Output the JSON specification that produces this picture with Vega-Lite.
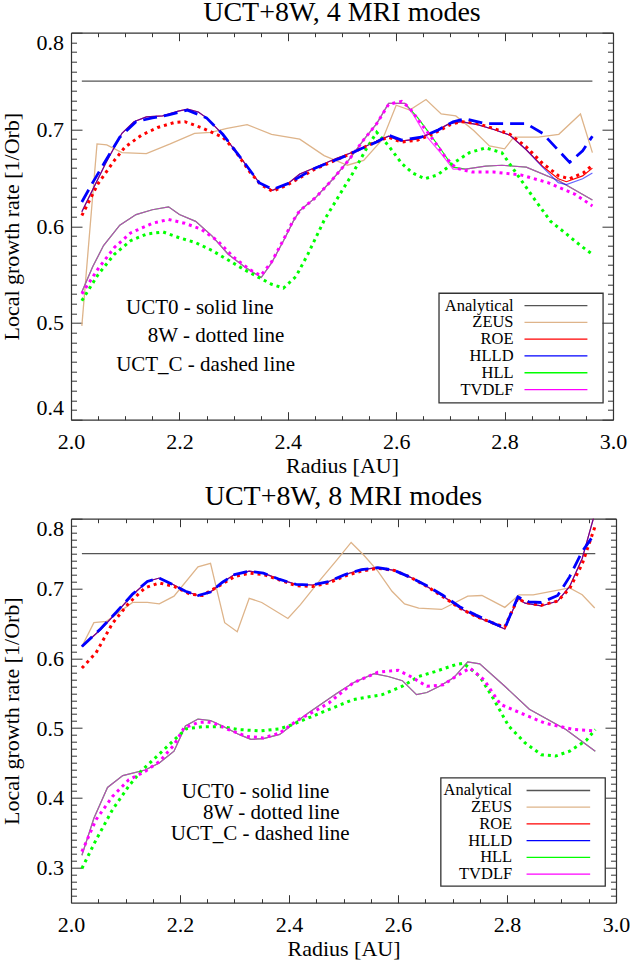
{
  "$schema": "https://vega.github.io/schema/vega-lite/v6.json",
  "padding": {"top": -1.3, "left": 0, "right": 0, "bottom": 0},
  "background": "white",
  "config": {
    "view": {"stroke": null},
    "font": "Liberation Serif",
    "legend": {"disable": true},
    "axis": {"grid": false, "domainColor": "#333333", "domainWidth": 1.2, "tickColor": "#333333", "tickWidth": 1,
      "labelFont": "Liberation Serif", "labelFontSize": 22, "labelColor": "black",
      "titleFont": "Liberation Serif", "titleFontSize": 22, "titleFontWeight": "normal", "titleColor": "black"},
    "title": {"font": "Liberation Serif", "fontSize": 28, "fontWeight": "normal", "color": "black", "anchor": "middle", "frame": "group", "baseline": "alphabetic"},
    "line": {"strokeCap": "butt"}
  },
  "datasets": {
    "legend": [{"code":"Analytical"},{"code":"ZEUS"},{"code":"ROE"},{"code":"HLLD"},{"code":"HLL"},{"code":"TVDLF"}],
    "top": [
      {"code":"Analytical","scheme":"UCT0","r":2.02,"g":0.75},{"code":"Analytical","scheme":"UCT0","r":2.962,"g":0.75},
      {"code":"ZEUS","scheme":"UCT0","r":2.02,"g":0.497},{"code":"ZEUS","scheme":"UCT0","r":2.048,"g":0.685},{"code":"ZEUS","scheme":"UCT0","r":2.066,"g":0.684},{"code":"ZEUS","scheme":"UCT0","r":2.094,"g":0.676},{"code":"ZEUS","scheme":"UCT0","r":2.139,"g":0.675},{"code":"ZEUS","scheme":"UCT0","r":2.183,"g":0.685},{"code":"ZEUS","scheme":"UCT0","r":2.228,"g":0.696},{"code":"ZEUS","scheme":"UCT0","r":2.258,"g":0.697},{"code":"ZEUS","scheme":"UCT0","r":2.288,"g":0.701},{"code":"ZEUS","scheme":"UCT0","r":2.325,"g":0.705},{"code":"ZEUS","scheme":"UCT0","r":2.37,"g":0.695},{"code":"ZEUS","scheme":"UCT0","r":2.422,"g":0.69},{"code":"ZEUS","scheme":"UCT0","r":2.467,"g":0.673},{"code":"ZEUS","scheme":"UCT0","r":2.51,"g":0.663},{"code":"ZEUS","scheme":"UCT0","r":2.54,"g":0.668},{"code":"ZEUS","scheme":"UCT0","r":2.575,"g":0.69},{"code":"ZEUS","scheme":"UCT0","r":2.6,"g":0.725},{"code":"ZEUS","scheme":"UCT0","r":2.625,"g":0.72},{"code":"ZEUS","scheme":"UCT0","r":2.655,"g":0.731},{"code":"ZEUS","scheme":"UCT0","r":2.683,"g":0.716},{"code":"ZEUS","scheme":"UCT0","r":2.71,"g":0.714},{"code":"ZEUS","scheme":"UCT0","r":2.743,"g":0.699},{"code":"ZEUS","scheme":"UCT0","r":2.772,"g":0.683},{"code":"ZEUS","scheme":"UCT0","r":2.8,"g":0.68},{"code":"ZEUS","scheme":"UCT0","r":2.817,"g":0.692},{"code":"ZEUS","scheme":"UCT0","r":2.862,"g":0.692},{"code":"ZEUS","scheme":"UCT0","r":2.9,"g":0.695},{"code":"ZEUS","scheme":"UCT0","r":2.94,"g":0.716},{"code":"ZEUS","scheme":"UCT0","r":2.962,"g":0.676},
      {"code":"HLL","scheme":"UCT0","r":2.02,"g":0.532},{"code":"HLL","scheme":"UCT0","r":2.04,"g":0.558},{"code":"HLL","scheme":"UCT0","r":2.06,"g":0.58},{"code":"HLL","scheme":"UCT0","r":2.09,"g":0.601},{"code":"HLL","scheme":"UCT0","r":2.12,"g":0.612},{"code":"HLL","scheme":"UCT0","r":2.15,"g":0.617},{"code":"HLL","scheme":"UCT0","r":2.18,"g":0.62},{"code":"HLL","scheme":"UCT0","r":2.2,"g":0.612},{"code":"HLL","scheme":"UCT0","r":2.23,"g":0.605},{"code":"HLL","scheme":"UCT0","r":2.26,"g":0.59},{"code":"HLL","scheme":"UCT0","r":2.29,"g":0.571},{"code":"HLL","scheme":"UCT0","r":2.32,"g":0.558},{"code":"HLL","scheme":"UCT0","r":2.351,"g":0.547},{"code":"HLL","scheme":"UCT0","r":2.37,"g":0.562},{"code":"HLL","scheme":"UCT0","r":2.392,"g":0.585},{"code":"HLL","scheme":"UCT0","r":2.41,"g":0.605},{"code":"HLL","scheme":"UCT0","r":2.422,"g":0.616},{"code":"HLL","scheme":"UCT0","r":2.452,"g":0.63},{"code":"HLL","scheme":"UCT0","r":2.482,"g":0.648},{"code":"HLL","scheme":"UCT0","r":2.512,"g":0.668},{"code":"HLL","scheme":"UCT0","r":2.541,"g":0.69},{"code":"HLL","scheme":"UCT0","r":2.564,"g":0.706},{"code":"HLL","scheme":"UCT0","r":2.586,"g":0.727},{"code":"HLL","scheme":"UCT0","r":2.616,"g":0.727},{"code":"HLL","scheme":"UCT0","r":2.64,"g":0.712},{"code":"HLL","scheme":"UCT0","r":2.66,"g":0.697},{"code":"HLL","scheme":"UCT0","r":2.683,"g":0.679},{"code":"HLL","scheme":"UCT0","r":2.705,"g":0.661},{"code":"HLL","scheme":"UCT0","r":2.728,"g":0.659},{"code":"HLL","scheme":"UCT0","r":2.765,"g":0.662},{"code":"HLL","scheme":"UCT0","r":2.795,"g":0.663},{"code":"HLL","scheme":"UCT0","r":2.84,"g":0.661},{"code":"HLL","scheme":"UCT0","r":2.9,"g":0.647},{"code":"HLL","scheme":"UCT0","r":2.962,"g":0.627},
      {"code":"TVDLF","scheme":"UCT0","r":2.02,"g":0.532},{"code":"TVDLF","scheme":"UCT0","r":2.04,"g":0.558},{"code":"TVDLF","scheme":"UCT0","r":2.06,"g":0.58},{"code":"TVDLF","scheme":"UCT0","r":2.09,"g":0.601},{"code":"TVDLF","scheme":"UCT0","r":2.12,"g":0.612},{"code":"TVDLF","scheme":"UCT0","r":2.15,"g":0.617},{"code":"TVDLF","scheme":"UCT0","r":2.18,"g":0.62},{"code":"TVDLF","scheme":"UCT0","r":2.2,"g":0.612},{"code":"TVDLF","scheme":"UCT0","r":2.23,"g":0.605},{"code":"TVDLF","scheme":"UCT0","r":2.26,"g":0.59},{"code":"TVDLF","scheme":"UCT0","r":2.29,"g":0.571},{"code":"TVDLF","scheme":"UCT0","r":2.32,"g":0.558},{"code":"TVDLF","scheme":"UCT0","r":2.351,"g":0.547},{"code":"TVDLF","scheme":"UCT0","r":2.37,"g":0.562},{"code":"TVDLF","scheme":"UCT0","r":2.392,"g":0.585},{"code":"TVDLF","scheme":"UCT0","r":2.41,"g":0.605},{"code":"TVDLF","scheme":"UCT0","r":2.422,"g":0.616},{"code":"TVDLF","scheme":"UCT0","r":2.452,"g":0.63},{"code":"TVDLF","scheme":"UCT0","r":2.482,"g":0.648},{"code":"TVDLF","scheme":"UCT0","r":2.512,"g":0.668},{"code":"TVDLF","scheme":"UCT0","r":2.541,"g":0.69},{"code":"TVDLF","scheme":"UCT0","r":2.564,"g":0.706},{"code":"TVDLF","scheme":"UCT0","r":2.586,"g":0.727},{"code":"TVDLF","scheme":"UCT0","r":2.616,"g":0.727},{"code":"TVDLF","scheme":"UCT0","r":2.632,"g":0.715},{"code":"TVDLF","scheme":"UCT0","r":2.653,"g":0.695},{"code":"TVDLF","scheme":"UCT0","r":2.683,"g":0.675},{"code":"TVDLF","scheme":"UCT0","r":2.705,"g":0.659},{"code":"TVDLF","scheme":"UCT0","r":2.728,"g":0.659},{"code":"TVDLF","scheme":"UCT0","r":2.765,"g":0.662},{"code":"TVDLF","scheme":"UCT0","r":2.795,"g":0.663},{"code":"TVDLF","scheme":"UCT0","r":2.84,"g":0.661},{"code":"TVDLF","scheme":"UCT0","r":2.9,"g":0.647},{"code":"TVDLF","scheme":"UCT0","r":2.962,"g":0.627},
      {"code":"ROE","scheme":"UCT0","r":2.02,"g":0.615},{"code":"ROE","scheme":"UCT0","r":2.042,"g":0.64},{"code":"ROE","scheme":"UCT0","r":2.064,"g":0.665},{"code":"ROE","scheme":"UCT0","r":2.094,"g":0.696},{"code":"ROE","scheme":"UCT0","r":2.116,"g":0.708},{"code":"ROE","scheme":"UCT0","r":2.139,"g":0.713},{"code":"ROE","scheme":"UCT0","r":2.169,"g":0.714},{"code":"ROE","scheme":"UCT0","r":2.198,"g":0.719},{"code":"ROE","scheme":"UCT0","r":2.215,"g":0.721},{"code":"ROE","scheme":"UCT0","r":2.235,"g":0.718},{"code":"ROE","scheme":"UCT0","r":2.25,"g":0.712},{"code":"ROE","scheme":"UCT0","r":2.28,"g":0.695},{"code":"ROE","scheme":"UCT0","r":2.318,"g":0.667},{"code":"ROE","scheme":"UCT0","r":2.347,"g":0.645},{"code":"ROE","scheme":"UCT0","r":2.372,"g":0.637},{"code":"ROE","scheme":"UCT0","r":2.4,"g":0.644},{"code":"ROE","scheme":"UCT0","r":2.422,"g":0.654},{"code":"ROE","scheme":"UCT0","r":2.452,"g":0.661},{"code":"ROE","scheme":"UCT0","r":2.489,"g":0.67},{"code":"ROE","scheme":"UCT0","r":2.527,"g":0.678},{"code":"ROE","scheme":"UCT0","r":2.556,"g":0.686},{"code":"ROE","scheme":"UCT0","r":2.586,"g":0.693},{"code":"ROE","scheme":"UCT0","r":2.608,"g":0.688},{"code":"ROE","scheme":"UCT0","r":2.638,"g":0.69},{"code":"ROE","scheme":"UCT0","r":2.668,"g":0.697},{"code":"ROE","scheme":"UCT0","r":2.698,"g":0.706},{"code":"ROE","scheme":"UCT0","r":2.72,"g":0.708},{"code":"ROE","scheme":"UCT0","r":2.75,"g":0.705},{"code":"ROE","scheme":"UCT0","r":2.78,"g":0.7},{"code":"ROE","scheme":"UCT0","r":2.81,"g":0.694},{"code":"ROE","scheme":"UCT0","r":2.84,"g":0.679},{"code":"ROE","scheme":"UCT0","r":2.87,"g":0.662},{"code":"ROE","scheme":"UCT0","r":2.899,"g":0.649},{"code":"ROE","scheme":"UCT0","r":2.914,"g":0.646},{"code":"ROE","scheme":"UCT0","r":2.944,"g":0.652},{"code":"ROE","scheme":"UCT0","r":2.962,"g":0.66},
      {"code":"HLLD","scheme":"UCT0","r":2.02,"g":0.615},{"code":"HLLD","scheme":"UCT0","r":2.042,"g":0.64},{"code":"HLLD","scheme":"UCT0","r":2.064,"g":0.665},{"code":"HLLD","scheme":"UCT0","r":2.094,"g":0.696},{"code":"HLLD","scheme":"UCT0","r":2.116,"g":0.708},{"code":"HLLD","scheme":"UCT0","r":2.139,"g":0.713},{"code":"HLLD","scheme":"UCT0","r":2.169,"g":0.714},{"code":"HLLD","scheme":"UCT0","r":2.198,"g":0.719},{"code":"HLLD","scheme":"UCT0","r":2.215,"g":0.721},{"code":"HLLD","scheme":"UCT0","r":2.235,"g":0.718},{"code":"HLLD","scheme":"UCT0","r":2.25,"g":0.712},{"code":"HLLD","scheme":"UCT0","r":2.28,"g":0.695},{"code":"HLLD","scheme":"UCT0","r":2.318,"g":0.667},{"code":"HLLD","scheme":"UCT0","r":2.347,"g":0.645},{"code":"HLLD","scheme":"UCT0","r":2.372,"g":0.637},{"code":"HLLD","scheme":"UCT0","r":2.4,"g":0.644},{"code":"HLLD","scheme":"UCT0","r":2.422,"g":0.654},{"code":"HLLD","scheme":"UCT0","r":2.452,"g":0.661},{"code":"HLLD","scheme":"UCT0","r":2.489,"g":0.67},{"code":"HLLD","scheme":"UCT0","r":2.527,"g":0.678},{"code":"HLLD","scheme":"UCT0","r":2.556,"g":0.686},{"code":"HLLD","scheme":"UCT0","r":2.586,"g":0.693},{"code":"HLLD","scheme":"UCT0","r":2.608,"g":0.688},{"code":"HLLD","scheme":"UCT0","r":2.638,"g":0.69},{"code":"HLLD","scheme":"UCT0","r":2.668,"g":0.697},{"code":"HLLD","scheme":"UCT0","r":2.698,"g":0.706},{"code":"HLLD","scheme":"UCT0","r":2.72,"g":0.708},{"code":"HLLD","scheme":"UCT0","r":2.75,"g":0.705},{"code":"HLLD","scheme":"UCT0","r":2.78,"g":0.7},{"code":"HLLD","scheme":"UCT0","r":2.81,"g":0.694},{"code":"HLLD","scheme":"UCT0","r":2.84,"g":0.679},{"code":"HLLD","scheme":"UCT0","r":2.87,"g":0.661},{"code":"HLLD","scheme":"UCT0","r":2.899,"g":0.645},{"code":"HLLD","scheme":"UCT0","r":2.914,"g":0.643},{"code":"HLLD","scheme":"UCT0","r":2.944,"g":0.649},{"code":"HLLD","scheme":"UCT0","r":2.962,"g":0.655},
      {"code":"HLL","scheme":"8W","r":2.02,"g":0.523},{"code":"HLL","scheme":"8W","r":2.05,"g":0.55},{"code":"HLL","scheme":"8W","r":2.08,"g":0.571},{"code":"HLL","scheme":"8W","r":2.11,"g":0.585},{"code":"HLL","scheme":"8W","r":2.14,"g":0.592},{"code":"HLL","scheme":"8W","r":2.17,"g":0.594},{"code":"HLL","scheme":"8W","r":2.2,"g":0.588},{"code":"HLL","scheme":"8W","r":2.23,"g":0.583},{"code":"HLL","scheme":"8W","r":2.26,"g":0.575},{"code":"HLL","scheme":"8W","r":2.29,"g":0.565},{"code":"HLL","scheme":"8W","r":2.32,"g":0.555},{"code":"HLL","scheme":"8W","r":2.35,"g":0.546},{"code":"HLL","scheme":"8W","r":2.37,"g":0.54},{"code":"HLL","scheme":"8W","r":2.392,"g":0.536},{"code":"HLL","scheme":"8W","r":2.415,"g":0.548},{"code":"HLL","scheme":"8W","r":2.437,"g":0.571},{"code":"HLL","scheme":"8W","r":2.467,"g":0.606},{"code":"HLL","scheme":"8W","r":2.495,"g":0.632},{"code":"HLL","scheme":"8W","r":2.519,"g":0.654},{"code":"HLL","scheme":"8W","r":2.545,"g":0.68},{"code":"HLL","scheme":"8W","r":2.564,"g":0.697},{"code":"HLL","scheme":"8W","r":2.586,"g":0.683},{"code":"HLL","scheme":"8W","r":2.61,"g":0.665},{"code":"HLL","scheme":"8W","r":2.63,"g":0.655},{"code":"HLL","scheme":"8W","r":2.653,"g":0.649},{"code":"HLL","scheme":"8W","r":2.676,"g":0.653},{"code":"HLL","scheme":"8W","r":2.705,"g":0.665},{"code":"HLL","scheme":"8W","r":2.735,"g":0.676},{"code":"HLL","scheme":"8W","r":2.765,"g":0.681},{"code":"HLL","scheme":"8W","r":2.795,"g":0.676},{"code":"HLL","scheme":"8W","r":2.825,"g":0.652},{"code":"HLL","scheme":"8W","r":2.855,"g":0.628},{"code":"HLL","scheme":"8W","r":2.885,"g":0.605},{"code":"HLL","scheme":"8W","r":2.914,"g":0.592},{"code":"HLL","scheme":"8W","r":2.94,"g":0.58},{"code":"HLL","scheme":"8W","r":2.962,"g":0.571},
      {"code":"TVDLF","scheme":"8W","r":2.02,"g":0.53},{"code":"TVDLF","scheme":"8W","r":2.05,"g":0.556},{"code":"TVDLF","scheme":"8W","r":2.08,"g":0.578},{"code":"TVDLF","scheme":"8W","r":2.11,"g":0.593},{"code":"TVDLF","scheme":"8W","r":2.15,"g":0.603},{"code":"TVDLF","scheme":"8W","r":2.18,"g":0.607},{"code":"TVDLF","scheme":"8W","r":2.21,"g":0.603},{"code":"TVDLF","scheme":"8W","r":2.24,"g":0.597},{"code":"TVDLF","scheme":"8W","r":2.27,"g":0.585},{"code":"TVDLF","scheme":"8W","r":2.3,"g":0.568},{"code":"TVDLF","scheme":"8W","r":2.33,"g":0.555},{"code":"TVDLF","scheme":"8W","r":2.35,"g":0.549},{"code":"TVDLF","scheme":"8W","r":2.37,"g":0.563},{"code":"TVDLF","scheme":"8W","r":2.392,"g":0.586},{"code":"TVDLF","scheme":"8W","r":2.41,"g":0.606},{"code":"TVDLF","scheme":"8W","r":2.422,"g":0.616},{"code":"TVDLF","scheme":"8W","r":2.452,"g":0.63},{"code":"TVDLF","scheme":"8W","r":2.482,"g":0.648},{"code":"TVDLF","scheme":"8W","r":2.512,"g":0.668},{"code":"TVDLF","scheme":"8W","r":2.541,"g":0.69},{"code":"TVDLF","scheme":"8W","r":2.564,"g":0.706},{"code":"TVDLF","scheme":"8W","r":2.586,"g":0.726},{"code":"TVDLF","scheme":"8W","r":2.61,"g":0.729},{"code":"TVDLF","scheme":"8W","r":2.625,"g":0.722},{"code":"TVDLF","scheme":"8W","r":2.65,"g":0.703},{"code":"TVDLF","scheme":"8W","r":2.67,"g":0.688},{"code":"TVDLF","scheme":"8W","r":2.69,"g":0.672},{"code":"TVDLF","scheme":"8W","r":2.71,"g":0.66},{"code":"TVDLF","scheme":"8W","r":2.74,"g":0.656},{"code":"TVDLF","scheme":"8W","r":2.78,"g":0.656},{"code":"TVDLF","scheme":"8W","r":2.83,"g":0.653},{"code":"TVDLF","scheme":"8W","r":2.88,"g":0.645},{"code":"TVDLF","scheme":"8W","r":2.93,"g":0.633},{"code":"TVDLF","scheme":"8W","r":2.962,"g":0.621},
      {"code":"ROE","scheme":"8W","r":2.02,"g":0.611},{"code":"ROE","scheme":"8W","r":2.05,"g":0.644},{"code":"ROE","scheme":"8W","r":2.08,"g":0.668},{"code":"ROE","scheme":"8W","r":2.1,"g":0.682},{"code":"ROE","scheme":"8W","r":2.13,"g":0.694},{"code":"ROE","scheme":"8W","r":2.16,"g":0.702},{"code":"ROE","scheme":"8W","r":2.19,"g":0.707},{"code":"ROE","scheme":"8W","r":2.21,"g":0.708},{"code":"ROE","scheme":"8W","r":2.24,"g":0.702},{"code":"ROE","scheme":"8W","r":2.26,"g":0.697},{"code":"ROE","scheme":"8W","r":2.28,"g":0.692},{"code":"ROE","scheme":"8W","r":2.3,"g":0.68},{"code":"ROE","scheme":"8W","r":2.33,"g":0.656},{"code":"ROE","scheme":"8W","r":2.35,"g":0.643},{"code":"ROE","scheme":"8W","r":2.372,"g":0.636},{"code":"ROE","scheme":"8W","r":2.4,"g":0.643},{"code":"ROE","scheme":"8W","r":2.45,"g":0.659},{"code":"ROE","scheme":"8W","r":2.5,"g":0.671},{"code":"ROE","scheme":"8W","r":2.55,"g":0.684},{"code":"ROE","scheme":"8W","r":2.585,"g":0.692},{"code":"ROE","scheme":"8W","r":2.61,"g":0.687},{"code":"ROE","scheme":"8W","r":2.64,"g":0.689},{"code":"ROE","scheme":"8W","r":2.67,"g":0.696},{"code":"ROE","scheme":"8W","r":2.7,"g":0.705},{"code":"ROE","scheme":"8W","r":2.72,"g":0.708},{"code":"ROE","scheme":"8W","r":2.75,"g":0.706},{"code":"ROE","scheme":"8W","r":2.78,"g":0.701},{"code":"ROE","scheme":"8W","r":2.81,"g":0.695},{"code":"ROE","scheme":"8W","r":2.84,"g":0.682},{"code":"ROE","scheme":"8W","r":2.87,"g":0.665},{"code":"ROE","scheme":"8W","r":2.9,"g":0.652},{"code":"ROE","scheme":"8W","r":2.92,"g":0.649},{"code":"ROE","scheme":"8W","r":2.945,"g":0.655},{"code":"ROE","scheme":"8W","r":2.962,"g":0.663},
      {"code":"HLLD","scheme":"UCT_C","r":2.02,"g":0.625},{"code":"HLLD","scheme":"UCT_C","r":2.04,"g":0.645},{"code":"HLLD","scheme":"UCT_C","r":2.06,"g":0.664},{"code":"HLLD","scheme":"UCT_C","r":2.09,"g":0.692},{"code":"HLLD","scheme":"UCT_C","r":2.12,"g":0.708},{"code":"HLLD","scheme":"UCT_C","r":2.15,"g":0.712},{"code":"HLLD","scheme":"UCT_C","r":2.18,"g":0.715},{"code":"HLLD","scheme":"UCT_C","r":2.215,"g":0.72},{"code":"HLLD","scheme":"UCT_C","r":2.25,"g":0.712},{"code":"HLLD","scheme":"UCT_C","r":2.28,"g":0.695},{"code":"HLLD","scheme":"UCT_C","r":2.318,"g":0.667},{"code":"HLLD","scheme":"UCT_C","r":2.347,"g":0.645},{"code":"HLLD","scheme":"UCT_C","r":2.372,"g":0.638},{"code":"HLLD","scheme":"UCT_C","r":2.4,"g":0.644},{"code":"HLLD","scheme":"UCT_C","r":2.45,"g":0.66},{"code":"HLLD","scheme":"UCT_C","r":2.5,"g":0.671},{"code":"HLLD","scheme":"UCT_C","r":2.535,"g":0.68},{"code":"HLLD","scheme":"UCT_C","r":2.564,"g":0.687},{"code":"HLLD","scheme":"UCT_C","r":2.586,"g":0.694},{"code":"HLLD","scheme":"UCT_C","r":2.61,"g":0.689},{"code":"HLLD","scheme":"UCT_C","r":2.646,"g":0.692},{"code":"HLLD","scheme":"UCT_C","r":2.676,"g":0.699},{"code":"HLLD","scheme":"UCT_C","r":2.705,"g":0.708},{"code":"HLLD","scheme":"UCT_C","r":2.728,"g":0.711},{"code":"HLLD","scheme":"UCT_C","r":2.765,"g":0.706},{"code":"HLLD","scheme":"UCT_C","r":2.81,"g":0.706},{"code":"HLLD","scheme":"UCT_C","r":2.84,"g":0.706},{"code":"HLLD","scheme":"UCT_C","r":2.87,"g":0.696},{"code":"HLLD","scheme":"UCT_C","r":2.9,"g":0.678},{"code":"HLLD","scheme":"UCT_C","r":2.92,"g":0.666},{"code":"HLLD","scheme":"UCT_C","r":2.944,"g":0.678},{"code":"HLLD","scheme":"UCT_C","r":2.962,"g":0.693}
    ],
    "bottom": [
      {"code":"Analytical","scheme":"UCT0","r":2.02,"g":0.75},{"code":"Analytical","scheme":"UCT0","r":2.962,"g":0.75},
      {"code":"ZEUS","scheme":"UCT0","r":2.02,"g":0.617},{"code":"ZEUS","scheme":"UCT0","r":2.042,"g":0.651},{"code":"ZEUS","scheme":"UCT0","r":2.065,"g":0.653},{"code":"ZEUS","scheme":"UCT0","r":2.113,"g":0.68},{"code":"ZEUS","scheme":"UCT0","r":2.14,"g":0.68},{"code":"ZEUS","scheme":"UCT0","r":2.162,"g":0.678},{"code":"ZEUS","scheme":"UCT0","r":2.189,"g":0.689},{"code":"ZEUS","scheme":"UCT0","r":2.233,"g":0.731},{"code":"ZEUS","scheme":"UCT0","r":2.256,"g":0.736},{"code":"ZEUS","scheme":"UCT0","r":2.282,"g":0.651},{"code":"ZEUS","scheme":"UCT0","r":2.305,"g":0.638},{"code":"ZEUS","scheme":"UCT0","r":2.327,"g":0.686},{"code":"ZEUS","scheme":"UCT0","r":2.35,"g":0.68},{"code":"ZEUS","scheme":"UCT0","r":2.398,"g":0.657},{"code":"ZEUS","scheme":"UCT0","r":2.421,"g":0.677},{"code":"ZEUS","scheme":"UCT0","r":2.458,"g":0.713},{"code":"ZEUS","scheme":"UCT0","r":2.488,"g":0.741},{"code":"ZEUS","scheme":"UCT0","r":2.514,"g":0.766},{"code":"ZEUS","scheme":"UCT0","r":2.537,"g":0.748},{"code":"ZEUS","scheme":"UCT0","r":2.563,"g":0.725},{"code":"ZEUS","scheme":"UCT0","r":2.589,"g":0.696},{"code":"ZEUS","scheme":"UCT0","r":2.612,"g":0.678},{"code":"ZEUS","scheme":"UCT0","r":2.638,"g":0.672},{"code":"ZEUS","scheme":"UCT0","r":2.68,"g":0.67},{"code":"ZEUS","scheme":"UCT0","r":2.728,"g":0.689},{"code":"ZEUS","scheme":"UCT0","r":2.754,"g":0.69},{"code":"ZEUS","scheme":"UCT0","r":2.796,"g":0.673},{"code":"ZEUS","scheme":"UCT0","r":2.822,"g":0.691},{"code":"ZEUS","scheme":"UCT0","r":2.848,"g":0.691},{"code":"ZEUS","scheme":"UCT0","r":2.915,"g":0.701},{"code":"ZEUS","scheme":"UCT0","r":2.938,"g":0.691},{"code":"ZEUS","scheme":"UCT0","r":2.961,"g":0.672},
      {"code":"HLL","scheme":"UCT0","r":2.02,"g":0.318},{"code":"HLL","scheme":"UCT0","r":2.042,"g":0.371},{"code":"HLL","scheme":"UCT0","r":2.067,"g":0.415},{"code":"HLL","scheme":"UCT0","r":2.095,"g":0.432},{"code":"HLL","scheme":"UCT0","r":2.136,"g":0.44},{"code":"HLL","scheme":"UCT0","r":2.162,"g":0.45},{"code":"HLL","scheme":"UCT0","r":2.189,"g":0.467},{"code":"HLL","scheme":"UCT0","r":2.21,"g":0.503},{"code":"HLL","scheme":"UCT0","r":2.233,"g":0.513},{"code":"HLL","scheme":"UCT0","r":2.256,"g":0.511},{"code":"HLL","scheme":"UCT0","r":2.278,"g":0.503},{"code":"HLL","scheme":"UCT0","r":2.308,"g":0.491},{"code":"HLL","scheme":"UCT0","r":2.33,"g":0.484},{"code":"HLL","scheme":"UCT0","r":2.353,"g":0.485},{"code":"HLL","scheme":"UCT0","r":2.383,"g":0.491},{"code":"HLL","scheme":"UCT0","r":2.406,"g":0.505},{"code":"HLL","scheme":"UCT0","r":2.436,"g":0.522},{"code":"HLL","scheme":"UCT0","r":2.466,"g":0.538},{"code":"HLL","scheme":"UCT0","r":2.488,"g":0.55},{"code":"HLL","scheme":"UCT0","r":2.518,"g":0.565},{"code":"HLL","scheme":"UCT0","r":2.556,"g":0.578},{"code":"HLL","scheme":"UCT0","r":2.582,"g":0.574},{"code":"HLL","scheme":"UCT0","r":2.608,"g":0.568},{"code":"HLL","scheme":"UCT0","r":2.634,"g":0.548},{"code":"HLL","scheme":"UCT0","r":2.653,"g":0.551},{"code":"HLL","scheme":"UCT0","r":2.676,"g":0.56},{"code":"HLL","scheme":"UCT0","r":2.702,"g":0.572},{"code":"HLL","scheme":"UCT0","r":2.728,"g":0.595},{"code":"HLL","scheme":"UCT0","r":2.75,"g":0.592},{"code":"HLL","scheme":"UCT0","r":2.796,"g":0.56},{"code":"HLL","scheme":"UCT0","r":2.841,"g":0.527},{"code":"HLL","scheme":"UCT0","r":2.908,"g":0.498},{"code":"HLL","scheme":"UCT0","r":2.962,"g":0.467},
      {"code":"TVDLF","scheme":"UCT0","r":2.02,"g":0.318},{"code":"TVDLF","scheme":"UCT0","r":2.042,"g":0.371},{"code":"TVDLF","scheme":"UCT0","r":2.067,"g":0.415},{"code":"TVDLF","scheme":"UCT0","r":2.095,"g":0.432},{"code":"TVDLF","scheme":"UCT0","r":2.136,"g":0.44},{"code":"TVDLF","scheme":"UCT0","r":2.162,"g":0.45},{"code":"TVDLF","scheme":"UCT0","r":2.189,"g":0.467},{"code":"TVDLF","scheme":"UCT0","r":2.21,"g":0.503},{"code":"TVDLF","scheme":"UCT0","r":2.233,"g":0.513},{"code":"TVDLF","scheme":"UCT0","r":2.256,"g":0.511},{"code":"TVDLF","scheme":"UCT0","r":2.278,"g":0.503},{"code":"TVDLF","scheme":"UCT0","r":2.308,"g":0.491},{"code":"TVDLF","scheme":"UCT0","r":2.33,"g":0.484},{"code":"TVDLF","scheme":"UCT0","r":2.353,"g":0.485},{"code":"TVDLF","scheme":"UCT0","r":2.383,"g":0.491},{"code":"TVDLF","scheme":"UCT0","r":2.406,"g":0.505},{"code":"TVDLF","scheme":"UCT0","r":2.436,"g":0.522},{"code":"TVDLF","scheme":"UCT0","r":2.466,"g":0.538},{"code":"TVDLF","scheme":"UCT0","r":2.488,"g":0.55},{"code":"TVDLF","scheme":"UCT0","r":2.518,"g":0.565},{"code":"TVDLF","scheme":"UCT0","r":2.556,"g":0.578},{"code":"TVDLF","scheme":"UCT0","r":2.582,"g":0.574},{"code":"TVDLF","scheme":"UCT0","r":2.608,"g":0.568},{"code":"TVDLF","scheme":"UCT0","r":2.634,"g":0.548},{"code":"TVDLF","scheme":"UCT0","r":2.653,"g":0.551},{"code":"TVDLF","scheme":"UCT0","r":2.676,"g":0.56},{"code":"TVDLF","scheme":"UCT0","r":2.702,"g":0.572},{"code":"TVDLF","scheme":"UCT0","r":2.728,"g":0.595},{"code":"TVDLF","scheme":"UCT0","r":2.75,"g":0.592},{"code":"TVDLF","scheme":"UCT0","r":2.796,"g":0.56},{"code":"TVDLF","scheme":"UCT0","r":2.841,"g":0.527},{"code":"TVDLF","scheme":"UCT0","r":2.908,"g":0.498},{"code":"TVDLF","scheme":"UCT0","r":2.962,"g":0.467},
      {"code":"ROE","scheme":"UCT0","r":2.02,"g":0.617},{"code":"ROE","scheme":"UCT0","r":2.054,"g":0.641},{"code":"ROE","scheme":"UCT0","r":2.083,"g":0.665},{"code":"ROE","scheme":"UCT0","r":2.113,"g":0.691},{"code":"ROE","scheme":"UCT0","r":2.14,"g":0.71},{"code":"ROE","scheme":"UCT0","r":2.162,"g":0.715},{"code":"ROE","scheme":"UCT0","r":2.189,"g":0.705},{"code":"ROE","scheme":"UCT0","r":2.21,"g":0.696},{"code":"ROE","scheme":"UCT0","r":2.233,"g":0.69},{"code":"ROE","scheme":"UCT0","r":2.256,"g":0.695},{"code":"ROE","scheme":"UCT0","r":2.278,"g":0.709},{"code":"ROE","scheme":"UCT0","r":2.3,"g":0.72},{"code":"ROE","scheme":"UCT0","r":2.327,"g":0.725},{"code":"ROE","scheme":"UCT0","r":2.353,"g":0.722},{"code":"ROE","scheme":"UCT0","r":2.383,"g":0.713},{"code":"ROE","scheme":"UCT0","r":2.413,"g":0.706},{"code":"ROE","scheme":"UCT0","r":2.443,"g":0.705},{"code":"ROE","scheme":"UCT0","r":2.473,"g":0.71},{"code":"ROE","scheme":"UCT0","r":2.503,"g":0.72},{"code":"ROE","scheme":"UCT0","r":2.533,"g":0.727},{"code":"ROE","scheme":"UCT0","r":2.563,"g":0.73},{"code":"ROE","scheme":"UCT0","r":2.593,"g":0.726},{"code":"ROE","scheme":"UCT0","r":2.623,"g":0.716},{"code":"ROE","scheme":"UCT0","r":2.653,"g":0.703},{"code":"ROE","scheme":"UCT0","r":2.683,"g":0.689},{"code":"ROE","scheme":"UCT0","r":2.713,"g":0.672},{"code":"ROE","scheme":"UCT0","r":2.743,"g":0.66},{"code":"ROE","scheme":"UCT0","r":2.773,"g":0.65},{"code":"ROE","scheme":"UCT0","r":2.796,"g":0.642},{"code":"ROE","scheme":"UCT0","r":2.82,"g":0.686},{"code":"ROE","scheme":"UCT0","r":2.833,"g":0.679},{"code":"ROE","scheme":"UCT0","r":2.863,"g":0.675},{"code":"ROE","scheme":"UCT0","r":2.893,"g":0.682},{"code":"ROE","scheme":"UCT0","r":2.915,"g":0.703},{"code":"ROE","scheme":"UCT0","r":2.938,"g":0.743},{"code":"ROE","scheme":"UCT0","r":2.962,"g":0.81},
      {"code":"HLLD","scheme":"UCT0","r":2.02,"g":0.617},{"code":"HLLD","scheme":"UCT0","r":2.054,"g":0.641},{"code":"HLLD","scheme":"UCT0","r":2.083,"g":0.665},{"code":"HLLD","scheme":"UCT0","r":2.113,"g":0.691},{"code":"HLLD","scheme":"UCT0","r":2.14,"g":0.71},{"code":"HLLD","scheme":"UCT0","r":2.162,"g":0.715},{"code":"HLLD","scheme":"UCT0","r":2.189,"g":0.705},{"code":"HLLD","scheme":"UCT0","r":2.21,"g":0.696},{"code":"HLLD","scheme":"UCT0","r":2.233,"g":0.69},{"code":"HLLD","scheme":"UCT0","r":2.256,"g":0.695},{"code":"HLLD","scheme":"UCT0","r":2.278,"g":0.709},{"code":"HLLD","scheme":"UCT0","r":2.3,"g":0.72},{"code":"HLLD","scheme":"UCT0","r":2.327,"g":0.725},{"code":"HLLD","scheme":"UCT0","r":2.353,"g":0.722},{"code":"HLLD","scheme":"UCT0","r":2.383,"g":0.713},{"code":"HLLD","scheme":"UCT0","r":2.413,"g":0.706},{"code":"HLLD","scheme":"UCT0","r":2.443,"g":0.705},{"code":"HLLD","scheme":"UCT0","r":2.473,"g":0.71},{"code":"HLLD","scheme":"UCT0","r":2.503,"g":0.72},{"code":"HLLD","scheme":"UCT0","r":2.533,"g":0.727},{"code":"HLLD","scheme":"UCT0","r":2.563,"g":0.73},{"code":"HLLD","scheme":"UCT0","r":2.593,"g":0.726},{"code":"HLLD","scheme":"UCT0","r":2.623,"g":0.716},{"code":"HLLD","scheme":"UCT0","r":2.653,"g":0.703},{"code":"HLLD","scheme":"UCT0","r":2.683,"g":0.689},{"code":"HLLD","scheme":"UCT0","r":2.713,"g":0.672},{"code":"HLLD","scheme":"UCT0","r":2.743,"g":0.66},{"code":"HLLD","scheme":"UCT0","r":2.773,"g":0.65},{"code":"HLLD","scheme":"UCT0","r":2.796,"g":0.642},{"code":"HLLD","scheme":"UCT0","r":2.82,"g":0.686},{"code":"HLLD","scheme":"UCT0","r":2.833,"g":0.679},{"code":"HLLD","scheme":"UCT0","r":2.863,"g":0.675},{"code":"HLLD","scheme":"UCT0","r":2.893,"g":0.682},{"code":"HLLD","scheme":"UCT0","r":2.915,"g":0.703},{"code":"HLLD","scheme":"UCT0","r":2.938,"g":0.743},{"code":"HLLD","scheme":"UCT0","r":2.962,"g":0.81},
      {"code":"HLL","scheme":"8W","r":2.02,"g":0.299},{"code":"HLL","scheme":"8W","r":2.046,"g":0.34},{"code":"HLL","scheme":"8W","r":2.076,"g":0.383},{"code":"HLL","scheme":"8W","r":2.106,"g":0.417},{"code":"HLL","scheme":"8W","r":2.128,"g":0.438},{"code":"HLL","scheme":"8W","r":2.158,"g":0.46},{"code":"HLL","scheme":"8W","r":2.189,"g":0.483},{"code":"HLL","scheme":"8W","r":2.211,"g":0.499},{"code":"HLL","scheme":"8W","r":2.241,"g":0.502},{"code":"HLL","scheme":"8W","r":2.278,"g":0.502},{"code":"HLL","scheme":"8W","r":2.308,"g":0.498},{"code":"HLL","scheme":"8W","r":2.346,"g":0.496},{"code":"HLL","scheme":"8W","r":2.383,"g":0.499},{"code":"HLL","scheme":"8W","r":2.406,"g":0.505},{"code":"HLL","scheme":"8W","r":2.443,"g":0.517},{"code":"HLL","scheme":"8W","r":2.496,"g":0.534},{"code":"HLL","scheme":"8W","r":2.518,"g":0.541},{"code":"HLL","scheme":"8W","r":2.571,"g":0.548},{"code":"HLL","scheme":"8W","r":2.608,"g":0.56},{"code":"HLL","scheme":"8W","r":2.638,"g":0.574},{"code":"HLL","scheme":"8W","r":2.668,"g":0.581},{"code":"HLL","scheme":"8W","r":2.706,"g":0.591},{"code":"HLL","scheme":"8W","r":2.72,"g":0.593},{"code":"HLL","scheme":"8W","r":2.75,"g":0.574},{"code":"HLL","scheme":"8W","r":2.773,"g":0.545},{"code":"HLL","scheme":"8W","r":2.803,"g":0.503},{"code":"HLL","scheme":"8W","r":2.833,"g":0.479},{"code":"HLL","scheme":"8W","r":2.863,"g":0.462},{"code":"HLL","scheme":"8W","r":2.889,"g":0.46},{"code":"HLL","scheme":"8W","r":2.915,"g":0.467},{"code":"HLL","scheme":"8W","r":2.946,"g":0.483},{"code":"HLL","scheme":"8W","r":2.962,"g":0.498},
      {"code":"TVDLF","scheme":"8W","r":2.02,"g":0.323},{"code":"TVDLF","scheme":"8W","r":2.046,"g":0.369},{"code":"TVDLF","scheme":"8W","r":2.076,"g":0.402},{"code":"TVDLF","scheme":"8W","r":2.106,"g":0.426},{"code":"TVDLF","scheme":"8W","r":2.136,"g":0.438},{"code":"TVDLF","scheme":"8W","r":2.162,"g":0.452},{"code":"TVDLF","scheme":"8W","r":2.189,"g":0.476},{"code":"TVDLF","scheme":"8W","r":2.207,"g":0.5},{"code":"TVDLF","scheme":"8W","r":2.233,"g":0.508},{"code":"TVDLF","scheme":"8W","r":2.25,"g":0.509},{"code":"TVDLF","scheme":"8W","r":2.263,"g":0.507},{"code":"TVDLF","scheme":"8W","r":2.289,"g":0.498},{"code":"TVDLF","scheme":"8W","r":2.323,"g":0.488},{"code":"TVDLF","scheme":"8W","r":2.353,"g":0.486},{"code":"TVDLF","scheme":"8W","r":2.383,"g":0.493},{"code":"TVDLF","scheme":"8W","r":2.413,"g":0.51},{"code":"TVDLF","scheme":"8W","r":2.451,"g":0.526},{"code":"TVDLF","scheme":"8W","r":2.473,"g":0.536},{"code":"TVDLF","scheme":"8W","r":2.518,"g":0.565},{"code":"TVDLF","scheme":"8W","r":2.563,"g":0.58},{"code":"TVDLF","scheme":"8W","r":2.6,"g":0.583},{"code":"TVDLF","scheme":"8W","r":2.623,"g":0.574},{"code":"TVDLF","scheme":"8W","r":2.653,"g":0.56},{"code":"TVDLF","scheme":"8W","r":2.683,"g":0.562},{"code":"TVDLF","scheme":"8W","r":2.706,"g":0.574},{"code":"TVDLF","scheme":"8W","r":2.732,"g":0.586},{"code":"TVDLF","scheme":"8W","r":2.758,"g":0.569},{"code":"TVDLF","scheme":"8W","r":2.788,"g":0.534},{"code":"TVDLF","scheme":"8W","r":2.833,"g":0.519},{"code":"TVDLF","scheme":"8W","r":2.87,"g":0.507},{"code":"TVDLF","scheme":"8W","r":2.923,"g":0.498},{"code":"TVDLF","scheme":"8W","r":2.962,"g":0.496},
      {"code":"ROE","scheme":"8W","r":2.02,"g":0.586},{"code":"ROE","scheme":"8W","r":2.046,"g":0.608},{"code":"ROE","scheme":"8W","r":2.076,"g":0.65},{"code":"ROE","scheme":"8W","r":2.106,"g":0.679},{"code":"ROE","scheme":"8W","r":2.136,"g":0.701},{"code":"ROE","scheme":"8W","r":2.162,"g":0.708},{"code":"ROE","scheme":"8W","r":2.189,"g":0.703},{"code":"ROE","scheme":"8W","r":2.218,"g":0.692},{"code":"ROE","scheme":"8W","r":2.241,"g":0.69},{"code":"ROE","scheme":"8W","r":2.27,"g":0.703},{"code":"ROE","scheme":"8W","r":2.3,"g":0.717},{"code":"ROE","scheme":"8W","r":2.327,"g":0.722},{"code":"ROE","scheme":"8W","r":2.353,"g":0.72},{"code":"ROE","scheme":"8W","r":2.383,"g":0.712},{"code":"ROE","scheme":"8W","r":2.413,"g":0.704},{"code":"ROE","scheme":"8W","r":2.443,"g":0.703},{"code":"ROE","scheme":"8W","r":2.473,"g":0.708},{"code":"ROE","scheme":"8W","r":2.503,"g":0.718},{"code":"ROE","scheme":"8W","r":2.533,"g":0.725},{"code":"ROE","scheme":"8W","r":2.563,"g":0.729},{"code":"ROE","scheme":"8W","r":2.593,"g":0.726},{"code":"ROE","scheme":"8W","r":2.623,"g":0.716},{"code":"ROE","scheme":"8W","r":2.653,"g":0.703},{"code":"ROE","scheme":"8W","r":2.683,"g":0.688},{"code":"ROE","scheme":"8W","r":2.713,"g":0.672},{"code":"ROE","scheme":"8W","r":2.743,"g":0.66},{"code":"ROE","scheme":"8W","r":2.773,"g":0.651},{"code":"ROE","scheme":"8W","r":2.796,"g":0.645},{"code":"ROE","scheme":"8W","r":2.82,"g":0.686},{"code":"ROE","scheme":"8W","r":2.833,"g":0.68},{"code":"ROE","scheme":"8W","r":2.863,"g":0.676},{"code":"ROE","scheme":"8W","r":2.893,"g":0.682},{"code":"ROE","scheme":"8W","r":2.915,"g":0.7},{"code":"ROE","scheme":"8W","r":2.938,"g":0.735},{"code":"ROE","scheme":"8W","r":2.962,"g":0.79},
      {"code":"HLLD","scheme":"UCT_C","r":2.02,"g":0.617},{"code":"HLLD","scheme":"UCT_C","r":2.054,"g":0.642},{"code":"HLLD","scheme":"UCT_C","r":2.083,"g":0.666},{"code":"HLLD","scheme":"UCT_C","r":2.113,"g":0.692},{"code":"HLLD","scheme":"UCT_C","r":2.14,"g":0.71},{"code":"HLLD","scheme":"UCT_C","r":2.162,"g":0.715},{"code":"HLLD","scheme":"UCT_C","r":2.189,"g":0.705},{"code":"HLLD","scheme":"UCT_C","r":2.21,"g":0.696},{"code":"HLLD","scheme":"UCT_C","r":2.233,"g":0.69},{"code":"HLLD","scheme":"UCT_C","r":2.256,"g":0.695},{"code":"HLLD","scheme":"UCT_C","r":2.278,"g":0.709},{"code":"HLLD","scheme":"UCT_C","r":2.3,"g":0.72},{"code":"HLLD","scheme":"UCT_C","r":2.327,"g":0.725},{"code":"HLLD","scheme":"UCT_C","r":2.353,"g":0.722},{"code":"HLLD","scheme":"UCT_C","r":2.383,"g":0.713},{"code":"HLLD","scheme":"UCT_C","r":2.413,"g":0.706},{"code":"HLLD","scheme":"UCT_C","r":2.443,"g":0.705},{"code":"HLLD","scheme":"UCT_C","r":2.473,"g":0.71},{"code":"HLLD","scheme":"UCT_C","r":2.503,"g":0.72},{"code":"HLLD","scheme":"UCT_C","r":2.533,"g":0.727},{"code":"HLLD","scheme":"UCT_C","r":2.563,"g":0.73},{"code":"HLLD","scheme":"UCT_C","r":2.593,"g":0.726},{"code":"HLLD","scheme":"UCT_C","r":2.623,"g":0.716},{"code":"HLLD","scheme":"UCT_C","r":2.653,"g":0.704},{"code":"HLLD","scheme":"UCT_C","r":2.683,"g":0.69},{"code":"HLLD","scheme":"UCT_C","r":2.713,"g":0.674},{"code":"HLLD","scheme":"UCT_C","r":2.743,"g":0.662},{"code":"HLLD","scheme":"UCT_C","r":2.773,"g":0.651},{"code":"HLLD","scheme":"UCT_C","r":2.796,"g":0.643},{"code":"HLLD","scheme":"UCT_C","r":2.82,"g":0.688},{"code":"HLLD","scheme":"UCT_C","r":2.84,"g":0.681},{"code":"HLLD","scheme":"UCT_C","r":2.863,"g":0.68},{"code":"HLLD","scheme":"UCT_C","r":2.893,"g":0.69},{"code":"HLLD","scheme":"UCT_C","r":2.915,"g":0.717},{"code":"HLLD","scheme":"UCT_C","r":2.938,"g":0.753},{"code":"HLLD","scheme":"UCT_C","r":2.962,"g":0.78}
    ]
  },
  "columns": 1,
  "spacing": 6,
  "resolve": {"scale": {"color": "independent", "yOffset": "independent"}},
  "concat": [
    {
      "width": 542,
      "height": 387,
      "title": {"text": "UCT+8W, 4 MRI modes", "offset": 4.3},
      "data": {"name": "top"},
      "resolve": {"axis": {"x": "independent", "y": "independent"}},
      "layer": [
        {
          "transform": [{"filter": "datum.scheme == 'UCT0' && (datum.code == 'Analytical' || datum.code == 'ZEUS')"}],
          "mark": {"type": "line", "strokeWidth": 1.3, "clip": true},
          "encoding": {
            "x": {"field": "r", "type": "quantitative", "scale": {"domain": [2, 3], "nice": false, "zero": false},
              "axis": {"orient": "bottom", "values": [2, 2.2, 2.4, 2.6, 2.8, 3], "format": ".1f", "tickSize": -8, "labelPadding": 19.6, "labelFlush": false, "labelFont": "Liberation Serif", "titleFont": "Liberation Serif", "title": "Radius [AU]", "titlePadding": 3}},
            "y": {"field": "g", "type": "quantitative", "scale": {"domain": [0.4, 0.8], "nice": false, "zero": false},
              "axis": {"orient": "left", "values": [0.4, 0.5, 0.6, 0.7, 0.8], "format": ".1f", "tickSize": -11, "labelPadding": 18.4, "labelFlush": true, "labelFont": "Liberation Serif", "titleFont": "Liberation Serif", "title": "Local growth rate [1/Orb]", "titlePadding": 12.7}},
            "color": {"field": "code", "type": "nominal", "legend": null,
              "scale": {"domain": ["Analytical", "ZEUS", "ROE", "HLLD", "HLL", "TVDLF"], "range": ["#555555", "#deb48a", "#ff0000", "#0000ff", "#00ff00", "#ff00ff"]}}
          }
        },
        {
          "transform": [{"filter": "datum.scheme == 'UCT0' && datum.code == 'HLL'"}],
          "mark": {"type": "line", "strokeWidth": 1.2, "clip": true},
          "encoding": {
            "x": {"field": "r", "type": "quantitative", "scale": {"domain": [2, 3], "nice": false, "zero": false},
              "axis": {"orient": "bottom", "values": [2.05, 2.1, 2.15, 2.25, 2.3, 2.35, 2.45, 2.5, 2.55, 2.65, 2.7, 2.75, 2.85, 2.9, 2.95], "labels": false, "domain": false, "tickSize": -4, "title": null}},
            "y": {"field": "g", "type": "quantitative", "scale": {"domain": [0.4, 0.8], "nice": false, "zero": false},
              "axis": {"orient": "left", "values": [0.41, 0.42, 0.43, 0.44, 0.45, 0.46, 0.47, 0.48, 0.49, 0.51, 0.52, 0.53, 0.54, 0.55, 0.56, 0.57, 0.58, 0.59, 0.61, 0.62, 0.63, 0.64, 0.65, 0.66, 0.67, 0.68, 0.69, 0.71, 0.72, 0.73, 0.74, 0.75, 0.76, 0.77, 0.78, 0.79], "labels": false, "domain": false, "tickSize": -5.5, "title": null}},
            "color": {"field": "code", "type": "nominal", "legend": null}
          }
        },
        {
          "transform": [{"filter": "datum.scheme == 'UCT0' && datum.code == 'TVDLF'"}],
          "mark": {"type": "line", "strokeWidth": 1.2, "opacity": 0.72, "clip": true},
          "encoding": {
            "x": {"field": "r", "type": "quantitative", "scale": {"domain": [2, 3], "nice": false, "zero": false},
              "axis": {"orient": "top", "values": [2, 2.2, 2.4, 2.6, 2.8, 3], "labels": false, "tickSize": -8, "title": null}},
            "y": {"field": "g", "type": "quantitative", "scale": {"domain": [0.4, 0.8], "nice": false, "zero": false},
              "axis": {"orient": "right", "values": [0.4, 0.5, 0.6, 0.7, 0.8], "labels": false, "tickSize": -11, "title": null}},
            "color": {"field": "code", "type": "nominal", "legend": null}
          }
        },
        {
          "transform": [{"filter": "datum.scheme == 'UCT0' && datum.code == 'ROE'"}],
          "mark": {"type": "line", "strokeWidth": 1.2, "clip": true},
          "encoding": {
            "x": {"field": "r", "type": "quantitative", "scale": {"domain": [2, 3], "nice": false, "zero": false}, "axis": null},
            "y": {"field": "g", "type": "quantitative", "scale": {"domain": [0.4, 0.8], "nice": false, "zero": false}, "axis": null},
            "color": {"field": "code", "type": "nominal", "legend": null}
          }
        },
        {
          "transform": [{"filter": "datum.scheme == 'UCT0' && datum.code == 'HLLD'"}],
          "mark": {"type": "line", "strokeWidth": 1.2, "opacity": 0.6, "clip": true},
          "encoding": {
            "x": {"field": "r", "type": "quantitative", "scale": {"domain": [2, 3], "nice": false, "zero": false},
              "axis": {"orient": "top", "values": [2.05, 2.1, 2.15, 2.25, 2.3, 2.35, 2.45, 2.5, 2.55, 2.65, 2.7, 2.75, 2.85, 2.9, 2.95], "labels": false, "domain": false, "tickSize": -4, "title": null}},
            "y": {"field": "g", "type": "quantitative", "scale": {"domain": [0.4, 0.8], "nice": false, "zero": false},
              "axis": {"orient": "right", "values": [0.41, 0.42, 0.43, 0.44, 0.45, 0.46, 0.47, 0.48, 0.49, 0.51, 0.52, 0.53, 0.54, 0.55, 0.56, 0.57, 0.58, 0.59, 0.61, 0.62, 0.63, 0.64, 0.65, 0.66, 0.67, 0.68, 0.69, 0.71, 0.72, 0.73, 0.74, 0.75, 0.76, 0.77, 0.78, 0.79], "labels": false, "domain": false, "tickSize": -5.5, "title": null}},
            "color": {"field": "code", "type": "nominal", "legend": null}
          }
        },
        {
          "transform": [{"filter": "datum.scheme == '8W'"}],
          "mark": {"type": "line", "strokeWidth": 3, "strokeDash": [3, 4], "clip": true},
          "encoding": {
            "x": {"field": "r", "type": "quantitative", "scale": {"domain": [2, 3], "nice": false, "zero": false}, "axis": null},
            "y": {"field": "g", "type": "quantitative", "scale": {"domain": [0.4, 0.8], "nice": false, "zero": false}, "axis": null},
            "color": {"field": "code", "type": "nominal", "legend": null}
          }
        },
        {
          "transform": [{"filter": "datum.scheme == 'UCT_C'"}],
          "mark": {"type": "line", "strokeWidth": 2.8, "strokeDash": [14, 7], "clip": true},
          "encoding": {
            "x": {"field": "r", "type": "quantitative", "scale": {"domain": [2, 3], "nice": false, "zero": false}, "axis": null},
            "y": {"field": "g", "type": "quantitative", "scale": {"domain": [0.4, 0.8], "nice": false, "zero": false}, "axis": null},
            "color": {"field": "code", "type": "nominal", "legend": null}
          }
        },
        {
          "data": {"values": [{}]},
          "mark": {"type": "rect", "filled": false, "stroke": "#333333", "strokeWidth": 1.3},
          "encoding": {
            "x": {"datum": 2.679, "type": "quantitative", "axis": null},
            "x2": {"datum": 2.9817},
            "y": {"datum": 0.5307, "type": "quantitative", "axis": null},
            "y2": {"datum": 0.4174}
          }
        },
        {
          "data": {"name": "legend"},
          "mark": {"type": "rule", "strokeWidth": 1.3, "strokeCap": "butt"},
          "encoding": {
            "x": {"datum": 2.8367, "type": "quantitative", "axis": null},
            "x2": {"datum": 2.9528},
            "y": {"datum": 0.518, "type": "quantitative", "axis": null},
            "yOffset": {"field": "code", "type": "nominal", "scale": {"type": "point", "domain": ["Analytical", "ZEUS", "ROE", "HLLD", "HLL", "TVDLF"], "range": [0, 84], "padding": 0}},
            "color": {"field": "code", "type": "nominal", "legend": null}
          }
        },
        {
          "data": {"name": "legend"},
          "mark": {"type": "text", "align": "right", "baseline": "middle", "font": "Liberation Serif", "fontSize": 16.5, "color": "black"},
          "encoding": {
            "x": {"datum": 2.8165, "type": "quantitative", "axis": null},
            "y": {"datum": 0.518, "type": "quantitative", "axis": null},
            "yOffset": {"field": "code", "type": "nominal", "scale": {"type": "point", "domain": ["Analytical", "ZEUS", "ROE", "HLLD", "HLL", "TVDLF"], "range": [0, 84], "padding": 0}},
            "text": {"field": "code"}
          }
        },
        {
          "data": {"values": [{}]},
          "mark": {"type": "text", "align": "left", "baseline": "alphabetic", "font": "Liberation Serif", "fontSize": 21, "color": "black"},
          "encoding": {
            "x": {"datum": 2.1015, "type": "quantitative", "axis": null},
            "y": {"datum": 0.5094, "type": "quantitative", "axis": null},
            "text": {"value": "UCT0 - solid line"}
          }
        },
        {
          "data": {"values": [{}]},
          "mark": {"type": "text", "align": "left", "baseline": "alphabetic", "font": "Liberation Serif", "fontSize": 21, "color": "black"},
          "encoding": {
            "x": {"datum": 2.1418, "type": "quantitative", "axis": null},
            "y": {"datum": 0.48, "type": "quantitative", "axis": null},
            "text": {"value": "8W - dotted line"}
          }
        },
        {
          "data": {"values": [{}]},
          "mark": {"type": "text", "align": "left", "baseline": "alphabetic", "font": "Liberation Serif", "fontSize": 21, "color": "black"},
          "encoding": {
            "x": {"datum": 2.0833, "type": "quantitative", "axis": null},
            "y": {"datum": 0.45, "type": "quantitative", "axis": null},
            "text": {"value": "UCT_C - dashed line"}
          }
        }
      ]
    },
    {
      "width": 545,
      "height": 384,
      "title": {"text": "UCT+8W, 8 MRI modes", "offset": 6.7},
      "data": {"name": "bottom"},
      "resolve": {"axis": {"x": "independent", "y": "independent"}},
      "layer": [
        {
          "transform": [{"filter": "datum.scheme == 'UCT0' && (datum.code == 'Analytical' || datum.code == 'ZEUS')"}],
          "mark": {"type": "line", "strokeWidth": 1.3, "clip": true},
          "encoding": {
            "x": {"field": "r", "type": "quantitative", "scale": {"domain": [2, 3], "nice": false, "zero": false},
              "axis": {"orient": "bottom", "values": [2, 2.2, 2.4, 2.6, 2.8, 3], "format": ".1f", "tickSize": -8, "labelPadding": 19.6, "labelFlush": false, "labelFont": "Liberation Serif", "titleFont": "Liberation Serif", "title": "Radius [AU]", "titlePadding": 3}},
            "y": {"field": "g", "type": "quantitative", "scale": {"domain": [0.25, 0.8], "nice": false, "zero": false},
              "axis": {"orient": "left", "values": [0.3, 0.4, 0.5, 0.6, 0.7, 0.8], "format": ".1f", "tickSize": -11, "labelPadding": 18.4, "labelFlush": true, "labelFont": "Liberation Serif", "titleFont": "Liberation Serif", "title": "Local growth rate [1/Orb]", "titlePadding": 12.7}},
            "color": {"field": "code", "type": "nominal", "legend": null,
              "scale": {"domain": ["Analytical", "ZEUS", "ROE", "HLLD", "HLL", "TVDLF"], "range": ["#555555", "#deb48a", "#ff0000", "#0000ff", "#00ff00", "#ff00ff"]}}
          }
        },
        {
          "transform": [{"filter": "datum.scheme == 'UCT0' && datum.code == 'HLL'"}],
          "mark": {"type": "line", "strokeWidth": 1.2, "clip": true},
          "encoding": {
            "x": {"field": "r", "type": "quantitative", "scale": {"domain": [2, 3], "nice": false, "zero": false},
              "axis": {"orient": "bottom", "values": [2.05, 2.1, 2.15, 2.25, 2.3, 2.35, 2.45, 2.5, 2.55, 2.65, 2.7, 2.75, 2.85, 2.9, 2.95], "labels": false, "domain": false, "tickSize": -4, "title": null}},
            "y": {"field": "g", "type": "quantitative", "scale": {"domain": [0.25, 0.8], "nice": false, "zero": false},
              "axis": {"orient": "left", "values": [0.26, 0.27, 0.28, 0.29, 0.31, 0.32, 0.33, 0.34, 0.35, 0.36, 0.37, 0.38, 0.39, 0.41, 0.42, 0.43, 0.44, 0.45, 0.46, 0.47, 0.48, 0.49, 0.51, 0.52, 0.53, 0.54, 0.55, 0.56, 0.57, 0.58, 0.59, 0.61, 0.62, 0.63, 0.64, 0.65, 0.66, 0.67, 0.68, 0.69, 0.71, 0.72, 0.73, 0.74, 0.75, 0.76, 0.77, 0.78, 0.79], "labels": false, "domain": false, "tickSize": -5.5, "title": null}},
            "color": {"field": "code", "type": "nominal", "legend": null}
          }
        },
        {
          "transform": [{"filter": "datum.scheme == 'UCT0' && datum.code == 'TVDLF'"}],
          "mark": {"type": "line", "strokeWidth": 1.2, "opacity": 0.72, "clip": true},
          "encoding": {
            "x": {"field": "r", "type": "quantitative", "scale": {"domain": [2, 3], "nice": false, "zero": false},
              "axis": {"orient": "top", "values": [2, 2.2, 2.4, 2.6, 2.8, 3], "labels": false, "tickSize": -8, "title": null}},
            "y": {"field": "g", "type": "quantitative", "scale": {"domain": [0.25, 0.8], "nice": false, "zero": false},
              "axis": {"orient": "right", "values": [0.3, 0.4, 0.5, 0.6, 0.7, 0.8], "labels": false, "tickSize": -11, "title": null}},
            "color": {"field": "code", "type": "nominal", "legend": null}
          }
        },
        {
          "transform": [{"filter": "datum.scheme == 'UCT0' && datum.code == 'ROE'"}],
          "mark": {"type": "line", "strokeWidth": 1.2, "clip": true},
          "encoding": {
            "x": {"field": "r", "type": "quantitative", "scale": {"domain": [2, 3], "nice": false, "zero": false}, "axis": null},
            "y": {"field": "g", "type": "quantitative", "scale": {"domain": [0.25, 0.8], "nice": false, "zero": false}, "axis": null},
            "color": {"field": "code", "type": "nominal", "legend": null}
          }
        },
        {
          "transform": [{"filter": "datum.scheme == 'UCT0' && datum.code == 'HLLD'"}],
          "mark": {"type": "line", "strokeWidth": 1.2, "opacity": 0.6, "clip": true},
          "encoding": {
            "x": {"field": "r", "type": "quantitative", "scale": {"domain": [2, 3], "nice": false, "zero": false},
              "axis": {"orient": "top", "values": [2.05, 2.1, 2.15, 2.25, 2.3, 2.35, 2.45, 2.5, 2.55, 2.65, 2.7, 2.75, 2.85, 2.9, 2.95], "labels": false, "domain": false, "tickSize": -4, "title": null}},
            "y": {"field": "g", "type": "quantitative", "scale": {"domain": [0.25, 0.8], "nice": false, "zero": false},
              "axis": {"orient": "right", "values": [0.26, 0.27, 0.28, 0.29, 0.31, 0.32, 0.33, 0.34, 0.35, 0.36, 0.37, 0.38, 0.39, 0.41, 0.42, 0.43, 0.44, 0.45, 0.46, 0.47, 0.48, 0.49, 0.51, 0.52, 0.53, 0.54, 0.55, 0.56, 0.57, 0.58, 0.59, 0.61, 0.62, 0.63, 0.64, 0.65, 0.66, 0.67, 0.68, 0.69, 0.71, 0.72, 0.73, 0.74, 0.75, 0.76, 0.77, 0.78, 0.79], "labels": false, "domain": false, "tickSize": -5.5, "title": null}},
            "color": {"field": "code", "type": "nominal", "legend": null}
          }
        },
        {
          "transform": [{"filter": "datum.scheme == '8W'"}],
          "mark": {"type": "line", "strokeWidth": 3, "strokeDash": [3, 4], "clip": true},
          "encoding": {
            "x": {"field": "r", "type": "quantitative", "scale": {"domain": [2, 3], "nice": false, "zero": false}, "axis": null},
            "y": {"field": "g", "type": "quantitative", "scale": {"domain": [0.25, 0.8], "nice": false, "zero": false}, "axis": null},
            "color": {"field": "code", "type": "nominal", "legend": null}
          }
        },
        {
          "transform": [{"filter": "datum.scheme == 'UCT_C'"}],
          "mark": {"type": "line", "strokeWidth": 2.8, "strokeDash": [14, 7], "clip": true},
          "encoding": {
            "x": {"field": "r", "type": "quantitative", "scale": {"domain": [2, 3], "nice": false, "zero": false}, "axis": null},
            "y": {"field": "g", "type": "quantitative", "scale": {"domain": [0.25, 0.8], "nice": false, "zero": false}, "axis": null},
            "color": {"field": "code", "type": "nominal", "legend": null}
          }
        },
        {
          "data": {"values": [{}]},
          "mark": {"type": "rect", "filled": false, "stroke": "#333333", "strokeWidth": 1.3},
          "encoding": {
            "x": {"datum": 2.6786, "type": "quantitative", "axis": null},
            "x2": {"datum": 2.9803},
            "y": {"datum": 0.4289, "type": "quantitative", "axis": null},
            "y2": {"datum": 0.2738}
          }
        },
        {
          "data": {"name": "legend"},
          "mark": {"type": "rule", "strokeWidth": 1.3, "strokeCap": "butt"},
          "encoding": {
            "x": {"datum": 2.8359, "type": "quantitative", "axis": null},
            "x2": {"datum": 2.9526},
            "y": {"datum": 0.4107, "type": "quantitative", "axis": null},
            "yOffset": {"field": "code", "type": "nominal", "scale": {"type": "point", "domain": ["Analytical", "ZEUS", "ROE", "HLLD", "HLL", "TVDLF"], "range": [0, 83.6], "padding": 0}},
            "color": {"field": "code", "type": "nominal", "legend": null}
          }
        },
        {
          "data": {"name": "legend"},
          "mark": {"type": "text", "align": "right", "baseline": "middle", "font": "Liberation Serif", "fontSize": 16.5, "color": "black"},
          "encoding": {
            "x": {"datum": 2.8095, "type": "quantitative", "axis": null},
            "y": {"datum": 0.4107, "type": "quantitative", "axis": null},
            "yOffset": {"field": "code", "type": "nominal", "scale": {"type": "point", "domain": ["Analytical", "ZEUS", "ROE", "HLLD", "HLL", "TVDLF"], "range": [0, 83.6], "padding": 0}},
            "text": {"field": "code"}
          }
        },
        {
          "data": {"values": [{}]},
          "mark": {"type": "text", "align": "left", "baseline": "alphabetic", "font": "Liberation Serif", "fontSize": 21, "color": "black"},
          "encoding": {
            "x": {"datum": 2.2034, "type": "quantitative", "axis": null},
            "y": {"datum": 0.3999, "type": "quantitative", "axis": null},
            "text": {"value": "UCT0 - solid line"}
          }
        },
        {
          "data": {"values": [{}]},
          "mark": {"type": "text", "align": "left", "baseline": "alphabetic", "font": "Liberation Serif", "fontSize": 21, "color": "black"},
          "encoding": {
            "x": {"datum": 2.2422, "type": "quantitative", "axis": null},
            "y": {"datum": 0.3698, "type": "quantitative", "axis": null},
            "text": {"value": "8W - dotted line"}
          }
        },
        {
          "data": {"values": [{}]},
          "mark": {"type": "text", "align": "left", "baseline": "alphabetic", "font": "Liberation Serif", "fontSize": 21, "color": "black"},
          "encoding": {
            "x": {"datum": 2.183, "type": "quantitative", "axis": null},
            "y": {"datum": 0.34, "type": "quantitative", "axis": null},
            "text": {"value": "UCT_C - dashed line"}
          }
        }
      ]
    }
  ]
}
